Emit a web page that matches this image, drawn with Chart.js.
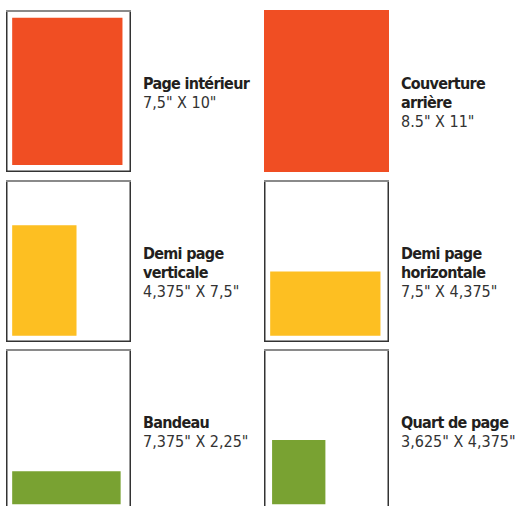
<!DOCTYPE html>
<html lang="fr">
  <head>
    <meta charset="UTF-8" />
    <title>Formats publicitaires</title>
    <script src="https://cdn.jsdelivr.net/npm/chart.js@4.4.1/dist/chart.umd.min.js"></script>
    <style>
      html,
      body {
        margin: 0;
        padding: 0;
        background: #fff;
      }
      #sheet {
        position: relative;
        width: 517px;
        height: 506px;
        overflow: hidden;
      }
      .page {
        position: absolute;
        width: 125px;
        height: 162px;
      }
      .label {
        position: absolute;
        font-family: "Liberation Sans Narrow", "DejaVu Sans Condensed", "Liberation Sans", sans-serif;
        font-size: 16px;
        line-height: 19px;
        color: #231f20;
        white-space: nowrap;
      }
      .label b {
        display: block;
        font-weight: bold;
        letter-spacing: -0.7px;
      }
      .label span {
        display: block;
        color: #333;
      }
    </style>
  </head>
  <body>
    <div id="sheet"></div>

    <script>
      // formats (inches), page = 8.5 x 11
      var names = [
        "Page intérieur",
        "Couverture<br>arrière",
        "Demi page<br>verticale",
        "Demi page<br>horizontale",
        "Bandeau",
        "Quart de page",
      ];
      var sizeLabels = [
        '7,5" X 10"',
        '8.5" X 11"',
        '4,375" X 7,5"',
        '7,5" X 4,375"',
        '7,375" X 2,25"',
        '3,625" X 4,375"',
      ];
      var widths = [7.5, 8.5, 4.375, 7.5, 7.375, 3.625];
      var heights = [10, 11, 7.5, 4.375, 2.25, 4.375];
      // where the ad sits on the page (left / bottom, inches)
      var offsetX = [0.42, 0, 0.42, 0.42, 0.42, 0.55];
      var offsetY = [0.48, 0, 0.42, 0.42, 0.45, 0.45];
      var colors = ["#f04e23", "#f04e23", "#fdbf22", "#fdbf22", "#79a232", "#79a232"];

      var pageW = 8.5;
      var pageH = 11;

      var cols = [6, 264];
      var rows = [10, 180, 349];

      // draws the page outline under the ad
      var framePlugin = {
        id: "frame",
        beforeDatasetsDraw: function (chart) {
          var a = chart.chartArea;
          var ctx = chart.ctx;
          ctx.save();
          ctx.lineWidth = 1.5;
          ctx.strokeStyle = "#333";
          ctx.beginPath();
          ctx.moveTo(a.left + 0.75, a.top + 1);
          ctx.lineTo(a.left + 0.75, a.bottom - 0.75);
          ctx.lineTo(a.right - 0.75, a.bottom - 0.75);
          ctx.lineTo(a.right - 0.75, a.top + 1);
          ctx.stroke();
          ctx.lineWidth = 2;
          ctx.strokeStyle = "#8a8a8a";
          ctx.beginPath();
          ctx.moveTo(a.left, a.top + 1);
          ctx.lineTo(a.right, a.top + 1);
          ctx.stroke();
          ctx.restore();
        },
      };

      var sheet = document.getElementById("sheet");

      for (let i = 0; i < names.length; i++) {
        let px = cols[i % 2];
        let py = rows[Math.floor(i / 2)];

        let canvas = document.createElement("canvas");
        canvas.className = "page";
        canvas.width = 125;
        canvas.height = 162;
        canvas.style.left = px + "px";
        canvas.style.top = py + "px";
        sheet.appendChild(canvas);

        let label = document.createElement("div");
        label.className = "label";
        label.style.left = px + 137 + "px";
        label.style.top = py + 64 + "px";
        label.innerHTML = "<b>" + names[i] + "</b><span>" + sizeLabels[i] + "</span>";
        sheet.appendChild(label);

        let x0 = offsetX[i];
        let y0 = offsetY[i];
        let x1 = x0 + widths[i];
        let y1 = y0 + heights[i];

        new Chart(canvas.getContext("2d"), {
          type: "scatter",
          data: {
            datasets: [
              {
                data: [
                  { x: x0, y: y0 },
                  { x: x1, y: y0 },
                  { x: x1, y: y1 },
                  { x: x0, y: y1 },
                  { x: x0, y: y0 },
                ],
                showLine: true,
                fill: "shape",
                backgroundColor: colors[i],
                borderWidth: 0,
                pointRadius: 0,
              },
            ],
          },
          options: {
            responsive: false,
            animation: false,
            events: [],
            layout: { padding: 0 },
            plugins: {
              legend: { display: false },
              tooltip: { enabled: false },
            },
            scales: {
              x: { type: "linear", min: 0, max: pageW, display: false },
              y: { type: "linear", min: 0, max: pageH, display: false },
            },
          },
          plugins: [framePlugin],
        });
      }
    </script>
  </body>
</html>
